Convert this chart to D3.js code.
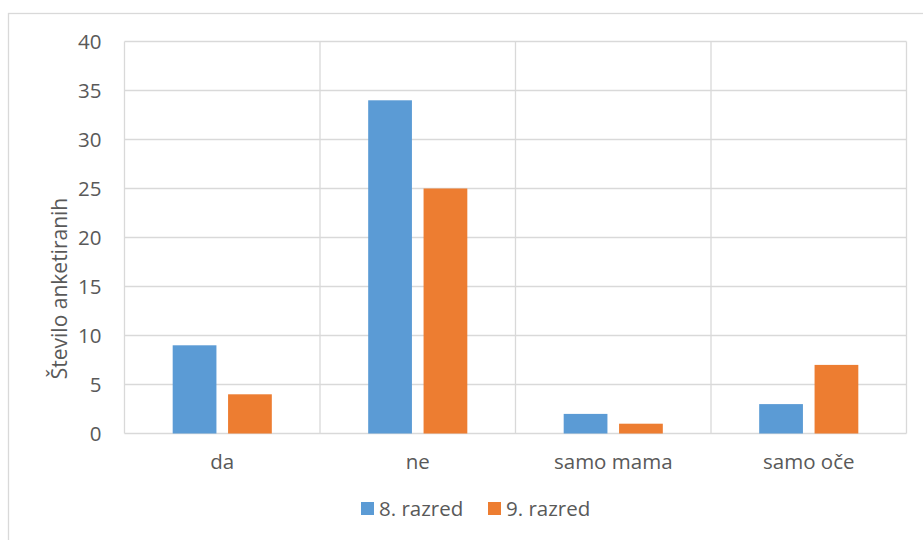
<!DOCTYPE html>
<html>
<head>
<meta charset="utf-8">
<script src="https://cdn.jsdelivr.net/npm/d3@7"></script>
<style>
  html, body { margin: 0; padding: 0; background: #fff; }
  svg text { font-family: "Open Sans", "Noto Sans", sans-serif; fill: #595959; }
</style>
</head>
<body>
<svg id="chart" width="923" height="540"></svg>
<script>
const categories = ["da", "ne", "samo mama", "samo oče"];
const seriesNames = ["8. razred", "9. razred"];
const razred8 = [9, 34, 2, 3];
const razred9 = [4, 25, 1, 7];
const yTicks = [0, 5, 10, 15, 20, 25, 30, 35, 40];
const colors = ["#5b9bd5", "#ed7d31"];
const yTitle = "Število anketiranih";

const svg = d3.select("#chart");
const W = 923, H = 540;
const plot = { left: 124.5, right: 906.5, top: 41.5, bottom: 433.5 };
const FS = "20.5px";

// outer frame
svg.append("rect")
  .attr("x", 8.5).attr("y", 13.5)
  .attr("width", W + 10).attr("height", H + 10)
  .attr("fill", "none").attr("stroke", "#d9d9d9").attr("stroke-width", 1.3);

const x = d3.scaleBand().domain(categories).range([plot.left, plot.right]).padding(0);
const y = d3.scaleLinear().domain([0, 40]).range([plot.bottom, plot.top]);
const inner = d3.scaleBand().domain(seriesNames).range([0, x.bandwidth()])
  .paddingInner(0.21).paddingOuter(0.87);

// horizontal gridlines
svg.append("g").selectAll("line").data(yTicks).join("line")
  .attr("x1", plot.left).attr("x2", plot.right)
  .attr("y1", d => y(d)).attr("y2", d => y(d))
  .attr("stroke", "#d9d9d9").attr("stroke-width", 1.3);

// vertical category separators
const seps = categories.map(c => x(c)).concat([plot.right]);
svg.append("g").selectAll("line").data(seps).join("line")
  .attr("x1", d => d).attr("x2", d => d)
  .attr("y1", plot.top).attr("y2", plot.bottom)
  .attr("stroke", "#d9d9d9").attr("stroke-width", 1.3);

// bars
const rows = categories.map((c, i) => ({ c, vals: [razred8[i], razred9[i]] }));
const g = svg.append("g");
rows.forEach(r => {
  r.vals.forEach((v, j) => {
    g.append("rect")
      .attr("x", x(r.c) + inner(seriesNames[j]))
      .attr("y", y(v))
      .attr("width", inner.bandwidth())
      .attr("height", y(0) - y(v))
      .attr("fill", colors[j]);
  });
});

// y axis labels
const yAxis = d3.axisLeft(y).tickValues(yTicks).tickSize(0).tickPadding(0);
const ya = svg.append("g").attr("transform", `translate(${plot.left - 23},0)`).call(yAxis);
ya.select(".domain").remove();
ya.selectAll("text").style("font-size", FS).attr("fill", "#595959")
  .style("font-family", '"Open Sans", sans-serif');

// x axis labels
const xAxis = d3.axisBottom(x).tickSize(0).tickPadding(0);
const xa = svg.append("g").attr("transform", `translate(0,${plot.bottom + 21})`).call(xAxis);
xa.select(".domain").remove();
xa.selectAll("text").style("font-size", FS).attr("fill", "#595959")
  .style("font-family", '"Open Sans", sans-serif');

// y title
svg.append("text")
  .attr("transform", `translate(67,288.5) rotate(-90)`)
  .attr("text-anchor", "middle")
  .style("font-size", "21px")
  .text(yTitle);

// legend
const legend = svg.append("g");
const legX = [361, 488];
seriesNames.forEach((n, j) => {
  legend.append("rect").attr("x", legX[j]).attr("y", 502).attr("width", 13).attr("height", 13).attr("fill", colors[j]);
  legend.append("text").attr("x", legX[j] + 18).attr("y", 516)
    .style("font-size", FS).text(n);
});
</script>
</body>
</html>
